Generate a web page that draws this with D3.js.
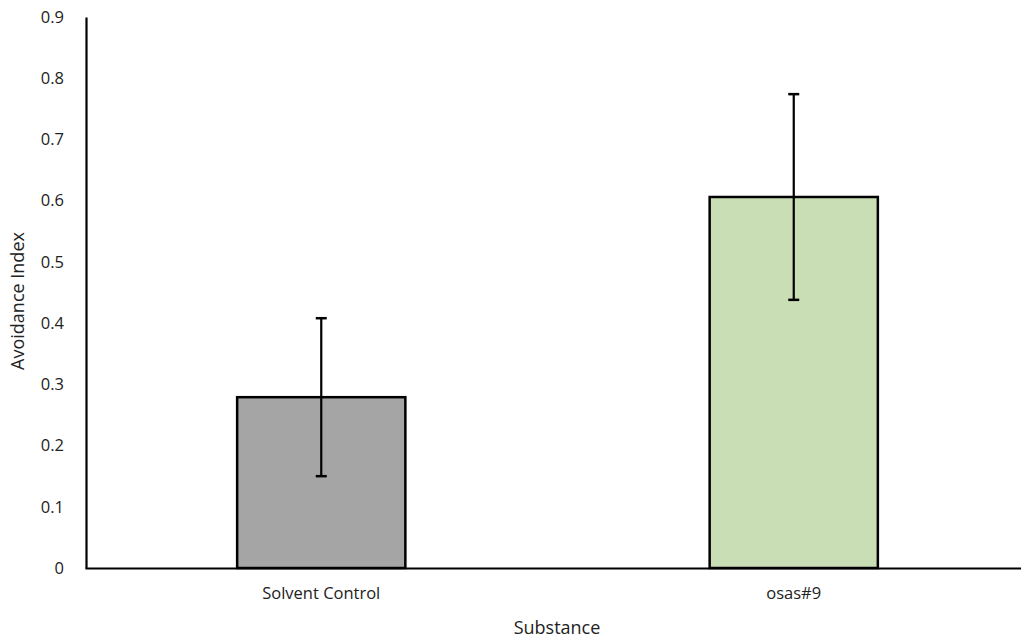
<!DOCTYPE html>
<html><head><meta charset="utf-8">
<script src="https://cdn.jsdelivr.net/npm/d3@7"></script>
<style>body{margin:0;background:#fff;} text{font-family:"Open Sans",sans-serif;fill:#222;}</style>
</head><body>
<svg id="c" width="1021" height="640"></svg>
<script>
const categories = ["Solvent Control", "osas#9"];
const values = [0.279, 0.606];
const errors = [0.129, 0.168];
const colors = ["#a5a5a5", "#c9deb5"];
const yTicks = [0, 0.1, 0.2, 0.3, 0.4, 0.5, 0.6, 0.7, 0.8, 0.9];

const svg = d3.select("#c");
const y = d3.scaleLinear().domain([0, 0.9]).range([568, 17]);
const x = d3.scaleBand().domain(categories).range([85, 1030]).padding(0);
const barW = x.bandwidth() * 0.356;
const FF = "'Open Sans',sans-serif";

// bars
svg.selectAll("rect.bar").data(categories).join("rect")
  .attr("x", d => x(d) + x.bandwidth()/2 - barW/2)
  .attr("y", (d,i) => y(values[i]))
  .attr("width", barW)
  .attr("height", (d,i) => y(0) - y(values[i]))
  .attr("fill", (d,i) => colors[i])
  .attr("stroke", "#000").attr("stroke-width", 2.5);

// error bars
const eb = svg.selectAll("g.err").data(categories).join("g");
eb.append("line")
  .attr("x1", d => x(d) + x.bandwidth()/2).attr("x2", d => x(d) + x.bandwidth()/2)
  .attr("y1", (d,i) => y(values[i] + errors[i])).attr("y2", (d,i) => y(values[i] - errors[i]))
  .attr("stroke", "#000").attr("stroke-width", 2.2);
[1, -1].forEach(s => {
  eb.append("line")
    .attr("x1", d => x(d) + x.bandwidth()/2 - 5.5).attr("x2", d => x(d) + x.bandwidth()/2 + 5.5)
    .attr("y1", (d,i) => y(values[i] + s*errors[i])).attr("y2", (d,i) => y(values[i] + s*errors[i]))
    .attr("stroke", "#000").attr("stroke-width", 2.5);
});

// y axis
const yAxis = d3.axisLeft(y).tickValues(yTicks).tickSize(0).tickPadding(22).tickFormat(d => d === 0 ? "0" : d3.format(".1f")(d));
const gy = svg.append("g").attr("transform", "translate(86,0)").call(yAxis);
gy.select(".domain").attr("stroke", "#000").attr("stroke-width", 2.2);
gy.selectAll("text").style("font-size", "16.5px").style("font-family", FF).attr("fill", "#222");

// x axis
const xAxis = d3.axisBottom(x).tickSize(0).tickPadding(19);
const gx = svg.append("g").attr("transform", "translate(0,568)").call(xAxis);
gx.select(".domain").attr("stroke", "#000").attr("stroke-width", 2.2);
gx.selectAll("text").style("font-size", "16.5px").style("font-family", FF).attr("fill", "#222");

// titles
svg.append("text").attr("x", 557).attr("y", 634).attr("text-anchor", "middle")
  .style("font-size", "18px").text("Substance");
svg.append("text").attr("transform", "translate(24,301) rotate(-90)").attr("text-anchor", "middle")
  .style("font-size", "18px").text("Avoidance Index");
</script>
</body></html>
